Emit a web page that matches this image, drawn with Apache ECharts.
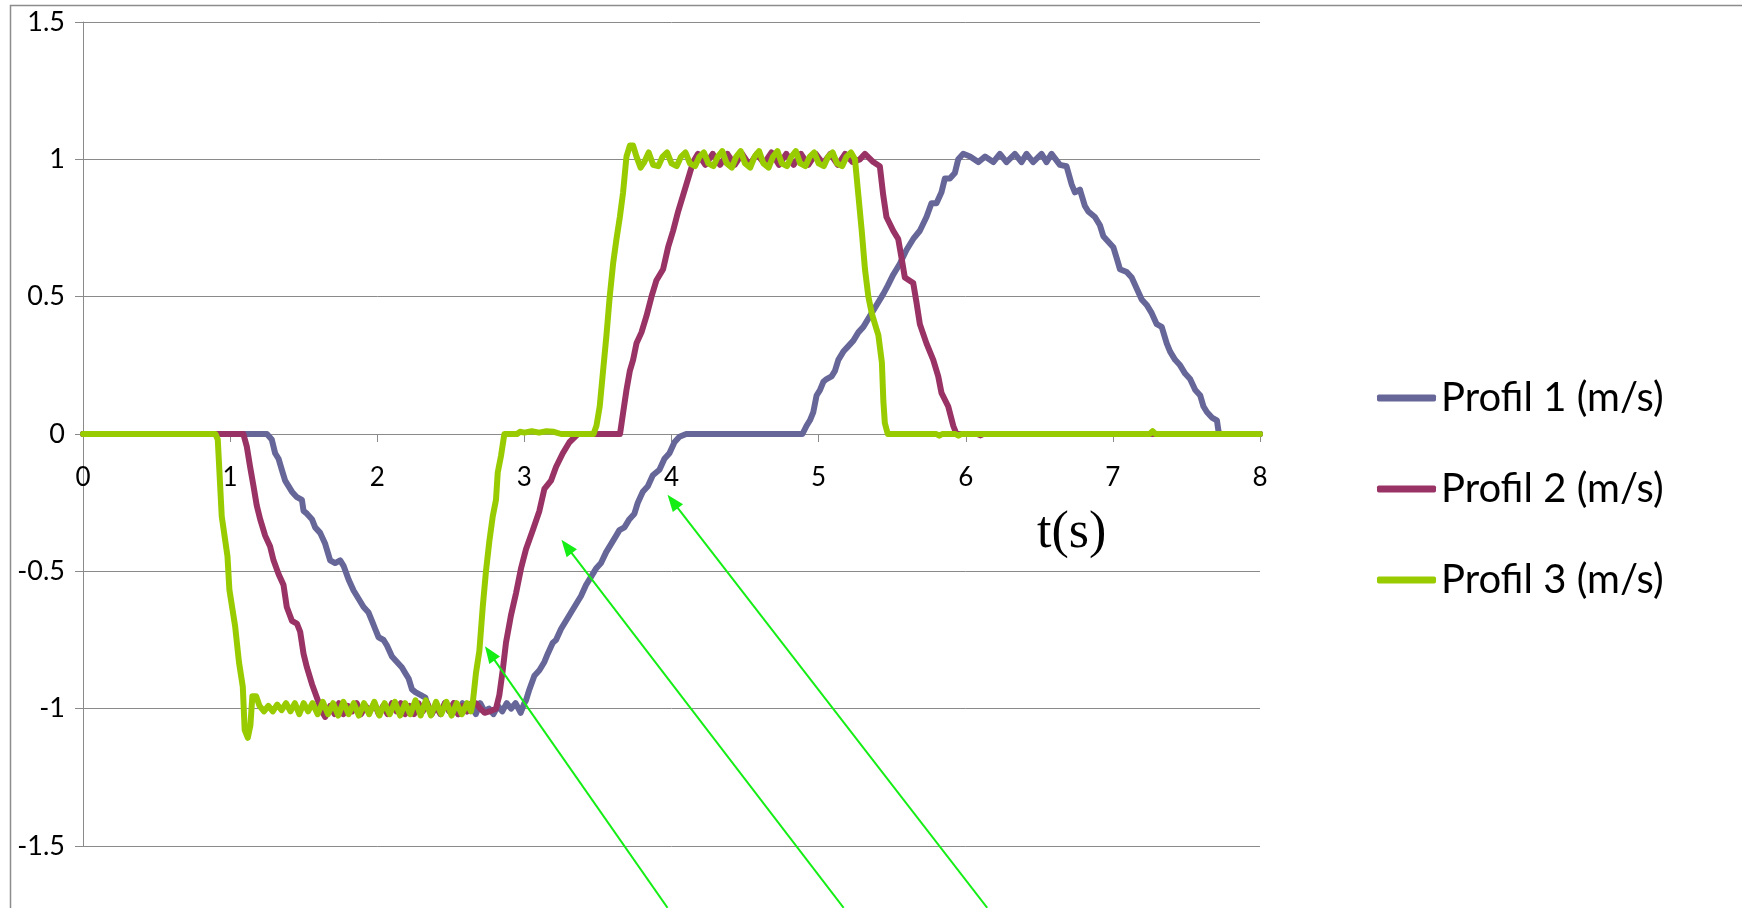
<!DOCTYPE html>
<html>
<head>
<meta charset="utf-8">
<script src="https://cdn.jsdelivr.net/npm/echarts@6/dist/echarts.min.js"></script>
<style>
  html, body { margin: 0; padding: 0; background: #ffffff; }
  #chart { width: 1742px; height: 908px; }
</style>
</head>
<body>
<div id="chart"></div>
<script>
// Series names shown in the legend
const seriesNames = ['Profil 1 (m/s)', 'Profil 2 (m/s)', 'Profil 3 (m/s)'];
const seriesColors = ['#666699', '#993366', '#99CC00'];

// Axis ranges and steps
const timeRange = [0, 8];
const timeStep = 1;
const speedRange = [-1.5, 1.5];
const speedStep = 0.5;
const timeAxisName = 't(s)';

// Velocity samples, [time (s), speed (m/s)]
const profil1 = [
  [0, 0], [1.25, 0], [1.283, -0.02], [1.306, -0.07], [1.329, -0.09], [1.351, -0.13], [1.374, -0.17],
  [1.397, -0.19], [1.42, -0.21], [1.454, -0.23], [1.488, -0.24], [1.499, -0.28], [1.522, -0.29],
  [1.556, -0.31], [1.578, -0.34], [1.612, -0.36], [1.646, -0.40], [1.68, -0.46], [1.714, -0.47],
  [1.748, -0.46], [1.771, -0.48], [1.805, -0.53], [1.839, -0.57], [1.873, -0.60], [1.907, -0.63],
  [1.941, -0.65], [1.964, -0.68], [1.986, -0.71], [2.009, -0.74], [2.043, -0.75], [2.066, -0.77],
  [2.10, -0.81], [2.134, -0.83], [2.168, -0.85], [2.19, -0.87], [2.213, -0.89], [2.236, -0.93],
  [2.259, -0.94], [2.293, -0.95], [2.327, -0.96], [2.349, -1.0],
  [2.37, -1.02], [2.40, -0.99], [2.43, -1.02], [2.46, -0.98], [2.49, -1.01], [2.52, -0.98],
  [2.55, -1.02], [2.58, -0.98], [2.61, -1.01], [2.64, -0.99], [2.67, -1.02], [2.70, -0.98],
  [2.73, -1.01], [2.76, -1.0], [2.79, -1.02], [2.82, -0.99], [2.85, -1.01], [2.88, -0.98],
  [2.91, -1.0], [2.94, -0.98], [2.975, -1.015], [3.0, -0.98],
  [3.011, -0.97], [3.034, -0.93], [3.068, -0.88], [3.102, -0.86], [3.136, -0.83], [3.159, -0.80],
  [3.193, -0.76], [3.215, -0.75], [3.249, -0.71], [3.283, -0.68], [3.317, -0.65], [3.351, -0.62],
  [3.385, -0.59], [3.419, -0.55], [3.453, -0.52], [3.487, -0.49], [3.521, -0.47], [3.556, -0.43],
  [3.59, -0.40], [3.624, -0.37], [3.646, -0.35], [3.68, -0.34], [3.714, -0.31], [3.748, -0.29],
  [3.771, -0.25], [3.805, -0.21], [3.839, -0.19], [3.873, -0.15], [3.918, -0.13], [3.952, -0.09],
  [3.986, -0.07], [4.02, -0.03], [4.054, -0.01], [4.10, 0], [4.89, 0],
  [4.918, 0.03], [4.941, 0.05], [4.964, 0.08], [4.986, 0.14], [5.009, 0.16], [5.032, 0.19],
  [5.054, 0.20], [5.088, 0.21], [5.111, 0.23], [5.134, 0.27], [5.168, 0.30], [5.202, 0.32],
  [5.236, 0.34], [5.27, 0.37], [5.304, 0.39], [5.338, 0.42], [5.372, 0.45], [5.406, 0.48],
  [5.44, 0.51], [5.47, 0.54], [5.507, 0.58], [5.552, 0.62], [5.597, 0.67], [5.643, 0.71],
  [5.688, 0.74], [5.733, 0.79], [5.767, 0.84], [5.801, 0.84], [5.835, 0.88], [5.858, 0.93],
  [5.892, 0.93], [5.926, 0.95], [5.949, 1.0], [5.983, 1.02],
  [6.029, 1.01], [6.085, 0.99], [6.131, 1.01], [6.187, 0.99], [6.232, 1.02], [6.277, 0.99],
  [6.334, 1.02], [6.379, 0.99], [6.413, 1.02], [6.458, 0.99], [6.515, 1.02], [6.549, 0.99],
  [6.583, 1.02], [6.64, 0.98], [6.685, 0.975],
  [6.719, 0.91], [6.742, 0.88], [6.776, 0.89], [6.81, 0.83], [6.833, 0.81], [6.878, 0.79],
  [6.912, 0.76], [6.935, 0.72], [6.969, 0.70], [7.003, 0.68], [7.026, 0.64], [7.048, 0.60],
  [7.094, 0.59], [7.128, 0.57], [7.162, 0.53], [7.196, 0.49], [7.23, 0.47], [7.264, 0.44],
  [7.298, 0.40], [7.332, 0.39], [7.366, 0.33], [7.389, 0.30], [7.423, 0.27], [7.457, 0.25],
  [7.491, 0.22], [7.525, 0.20], [7.56, 0.16], [7.594, 0.14], [7.616, 0.10], [7.639, 0.08],
  [7.673, 0.06], [7.707, 0.05], [7.718, 0.01], [7.73, 0], [8, 0]
];

const profil2 = [
  [0, 0], [1.09, 0], [1.113, -0.045], [1.136, -0.12], [1.159, -0.19], [1.181, -0.26], [1.204, -0.31],
  [1.238, -0.37], [1.272, -0.41], [1.295, -0.46], [1.329, -0.51], [1.363, -0.55], [1.385, -0.63],
  [1.42, -0.68], [1.454, -0.69], [1.476, -0.72], [1.499, -0.80], [1.522, -0.85], [1.556, -0.91],
  [1.59, -0.96], [1.624, -1.01], [1.646, -1.03],
  [1.68, -0.99], [1.71, -1.02], [1.74, -0.98], [1.77, -1.02], [1.80, -0.99], [1.83, -1.01],
  [1.86, -0.98], [1.89, -1.02], [1.92, -0.99], [1.95, -1.01], [1.98, -0.98], [2.01, -1.02],
  [2.04, -0.99], [2.07, -1.02], [2.10, -0.98], [2.13, -1.01], [2.16, -0.98], [2.19, -1.02],
  [2.22, -0.99], [2.25, -1.02], [2.28, -0.98], [2.31, -1.01], [2.34, -0.98], [2.37, -1.02],
  [2.40, -0.99], [2.43, -1.02], [2.46, -0.98], [2.49, -1.01], [2.52, -0.98], [2.55, -1.02],
  [2.58, -0.99], [2.61, -1.01], [2.64, -0.98], [2.671, -0.98], [2.70, -1.0], [2.73, -1.015],
  [2.762, -1.01], [2.807, -1.0],
  [2.83, -0.95], [2.853, -0.86], [2.875, -0.76], [2.909, -0.66], [2.943, -0.58], [2.977, -0.49],
  [3.011, -0.42], [3.057, -0.35], [3.102, -0.28], [3.136, -0.20], [3.181, -0.17], [3.215, -0.12],
  [3.261, -0.07], [3.306, -0.03], [3.363, 0], [3.65, 0],
  [3.671, 0.077], [3.694, 0.16], [3.717, 0.23], [3.739, 0.27], [3.762, 0.33], [3.796, 0.37],
  [3.83, 0.43], [3.864, 0.50], [3.898, 0.56], [3.943, 0.60], [3.977, 0.68], [4.011, 0.74],
  [4.045, 0.81], [4.079, 0.87], [4.113, 0.93], [4.147, 0.99],
  [4.18, 1.02], [4.23, 0.98], [4.28, 1.02], [4.33, 0.98], [4.38, 1.02], [4.43, 0.98],
  [4.48, 1.02], [4.53, 0.98], [4.58, 1.02], [4.63, 0.985], [4.68, 1.025], [4.73, 0.98],
  [4.78, 1.02], [4.83, 0.98], [4.88, 1.02], [4.93, 0.98], [4.98, 1.02], [5.03, 0.985],
  [5.08, 1.02], [5.13, 0.98], [5.18, 1.02], [5.23, 0.99], [5.28, 1.0], [5.315, 1.02],
  [5.372, 0.99], [5.416, 0.975],
  [5.439, 0.87], [5.461, 0.79], [5.507, 0.74], [5.541, 0.71], [5.564, 0.64], [5.586, 0.57],
  [5.643, 0.55], [5.665, 0.48], [5.688, 0.40], [5.733, 0.33], [5.779, 0.27], [5.813, 0.21],
  [5.835, 0.15], [5.881, 0.10], [5.915, 0.03], [5.937, 0], [6.08, 0], [6.1, -0.005], [6.12, 0], [8, 0]
];

const profil3 = [
  [0, 0], [0.90, 0], [0.916, -0.02], [0.943, -0.30], [0.982, -0.445], [0.995, -0.567],
  [1.034, -0.70], [1.06, -0.83], [1.086, -0.92], [1.099, -1.077], [1.12, -1.106], [1.138, -1.06],
  [1.151, -0.955], [1.177, -0.955], [1.20, -0.99],
  [1.23, -1.01], [1.26, -0.99], [1.29, -1.01], [1.32, -0.985], [1.35, -1.005], [1.38, -0.98],
  [1.41, -1.01], [1.44, -0.98], [1.47, -1.02], [1.50, -0.98], [1.53, -1.01], [1.56, -0.98],
  [1.595, -1.02], [1.63, -0.975], [1.665, -1.02], [1.70, -0.98], [1.735, -1.025], [1.77, -0.975],
  [1.805, -1.02], [1.84, -0.98], [1.875, -1.025], [1.91, -0.98], [1.945, -1.02], [1.98, -0.975],
  [2.015, -1.025], [2.05, -0.98], [2.085, -1.02], [2.12, -0.975], [2.155, -1.025], [2.19, -0.98],
  [2.225, -1.02], [2.26, -0.97], [2.295, -1.025], [2.33, -0.97], [2.365, -1.025], [2.40, -0.975],
  [2.435, -1.02], [2.47, -0.975], [2.505, -1.025], [2.54, -0.98], [2.575, -1.02], [2.61, -0.98],
  [2.637, -1.01],
  [2.649, -0.98], [2.671, -0.87], [2.694, -0.79], [2.717, -0.63], [2.739, -0.50], [2.762, -0.39],
  [2.785, -0.30], [2.807, -0.24], [2.819, -0.14], [2.841, -0.08], [2.864, 0],
  [2.95, 0], [2.97, 0.008], [3.0, 0.005], [3.05, 0.01], [3.1, 0.005], [3.15, 0.01], [3.2, 0.008],
  [3.25, 0], [3.47, 0],
  [3.49, 0.03], [3.512, 0.10], [3.535, 0.23], [3.558, 0.36], [3.58, 0.50], [3.603, 0.62],
  [3.626, 0.71], [3.649, 0.79], [3.671, 0.88], [3.694, 1.01],
  [3.717, 1.05], [3.739, 1.05], [3.762, 1.01], [3.79, 0.97], [3.815, 0.99], [3.845, 1.025],
  [3.875, 0.98], [3.91, 0.975], [3.94, 1.01], [3.97, 1.025], [4.0, 0.985], [4.035, 0.975],
  [4.065, 1.01], [4.095, 1.025], [4.125, 0.985], [4.16, 0.975], [4.19, 1.01], [4.22, 1.025],
  [4.25, 0.985], [4.285, 0.975], [4.315, 1.01], [4.345, 1.03], [4.375, 0.985], [4.41, 0.97],
  [4.44, 1.01], [4.47, 1.03], [4.5, 0.985], [4.535, 0.97], [4.565, 1.01], [4.595, 1.03],
  [4.625, 0.985], [4.66, 0.97], [4.69, 1.01], [4.72, 1.03], [4.75, 0.985], [4.785, 0.975],
  [4.815, 1.01], [4.845, 1.03], [4.875, 0.985], [4.91, 0.975], [4.94, 1.01], [4.97, 1.025],
  [5.0, 0.985], [5.035, 0.975], [5.065, 1.01], [5.095, 1.025], [5.125, 0.985], [5.16, 0.975],
  [5.19, 1.01], [5.22, 1.025], [5.247, 1.0],
  [5.27, 0.87], [5.293, 0.74], [5.315, 0.60], [5.338, 0.50], [5.361, 0.44], [5.383, 0.40],
  [5.406, 0.36], [5.43, 0.26], [5.44, 0.12], [5.45, 0.04], [5.47, 0],
  [5.80, 0], [5.82, -0.006], [5.84, 0], [5.93, 0], [5.95, -0.006], [5.97, 0],
  [7.25, 0], [7.27, 0.01], [7.29, 0], [8, 0]
];

const profiles = [profil1, profil2, profil3];

// Pointer arrows: [tip time, tip speed, tail time, tail speed]
const arrows = [
  [2.732, -0.773, 3.973, -1.725],
  [3.252, -0.385, 5.170, -1.725],
  [3.973, -0.221, 6.146, -1.725]
];
const arrowColor = '#14ee14';

const axisGray = '#8a8a8a';
const labelFont = 'Lato, "Noto Sans", sans-serif';

// Plot box inside the 1742x908 canvas
const plotBox = { left: 83, right: 482, top: 22, bottom: 62 };
const plotHeight = 908 - plotBox.top - plotBox.bottom;
// The time axis runs along speed = 0, i.e. halfway up the symmetric speed range
const timeAxisLift = plotHeight * (0 - speedRange[0]) / (speedRange[1] - speedRange[0]);

const chart = echarts.init(document.getElementById('chart'), null, { renderer: 'canvas' });

function renderArrow(params, api) {
  const tip = api.coord([api.value(0), api.value(1)]);
  const tail = api.coord([api.value(2), api.value(3)]);
  const dx = tip[0] - tail[0];
  const dy = tip[1] - tail[1];
  const len = Math.hypot(dx, dy);
  const ux = dx / len, uy = dy / len;
  const headLen = 17, headHalf = 6.5;
  const base = [tip[0] - ux * headLen, tip[1] - uy * headLen];
  return {
    type: 'group',
    children: [
      {
        type: 'line',
        shape: { x1: tail[0], y1: tail[1], x2: base[0] + ux * 2, y2: base[1] + uy * 2 },
        style: { stroke: arrowColor, lineWidth: 2 }
      },
      {
        type: 'polygon',
        shape: {
          points: [
            tip,
            [base[0] - uy * headHalf, base[1] + ux * headHalf],
            [base[0] + uy * headHalf, base[1] - ux * headHalf]
          ]
        },
        style: { fill: arrowColor }
      }
    ]
  };
}

const lineSeries = profiles.map((data, i) => ({
  name: seriesNames[i],
  type: 'line',
  data: data,
  showSymbol: false,
  symbol: 'none',
  smooth: false,
  z: 3 + i,
  color: seriesColors[i],
  lineStyle: { color: seriesColors[i], width: 6, cap: 'round', join: 'round' }
}));

chart.setOption({
  animation: false,
  backgroundColor: '#ffffff',
  grid: Object.assign({ containLabel: false }, plotBox),
  legend: {
    data: seriesNames,
    orient: 'vertical',
    left: 1377,
    top: 378,
    padding: 0,
    itemGap: 51,
    itemWidth: 59,
    itemHeight: 7,
    icon: 'roundRect',
    textStyle: { fontFamily: labelFont, fontSize: 40, lineHeight: 40, color: '#000000' }
  },
  xAxis: {
    type: 'value',
    min: timeRange[0],
    max: timeRange[1],
    interval: timeStep,
    position: 'bottom',
    offset: -timeAxisLift,
    axisLine: { onZero: false, lineStyle: { color: axisGray, width: 1 } },
    axisTick: { show: true, length: 8, lineStyle: { color: axisGray } },
    axisLabel: { margin: 31, color: '#000000', fontFamily: labelFont, fontSize: 26 },
    splitLine: { show: false }
  },
  yAxis: {
    type: 'value',
    min: speedRange[0],
    max: speedRange[1],
    interval: speedStep,
    axisLine: { show: true, lineStyle: { color: axisGray, width: 1 } },
    axisTick: { show: true, length: 8, lineStyle: { color: axisGray } },
    axisLabel: { margin: 18, color: '#000000', fontFamily: labelFont, fontSize: 27 },
    splitLine: { show: true, lineStyle: { color: axisGray, width: 1 } }
  },
  graphic: [
    {
      type: 'rect',
      silent: true,
      shape: { x: 10.5, y: 5.5, width: 2000, height: 2000 },
      style: { fill: 'none', stroke: '#8c8c8c', lineWidth: 1.5 }
    },
    {
      type: 'text',
      silent: true,
      x: 1037,
      y: 533,
      style: {
        text: timeAxisName,
        fontFamily: '"Liberation Serif", "Times New Roman", serif',
        fontSize: 52,
        fill: '#000000',
        verticalAlign: 'middle',
        align: 'left'
      }
    }
  ],
  series: lineSeries.concat([{
    type: 'custom',
    name: 'arrows',
    coordinateSystem: 'cartesian2d',
    clip: false,
    silent: true,
    z: 10,
    encode: { x: [0, 2], y: [1, 3] },
    renderItem: renderArrow,
    data: arrows
  }])
});
</script>
</body>
</html>
